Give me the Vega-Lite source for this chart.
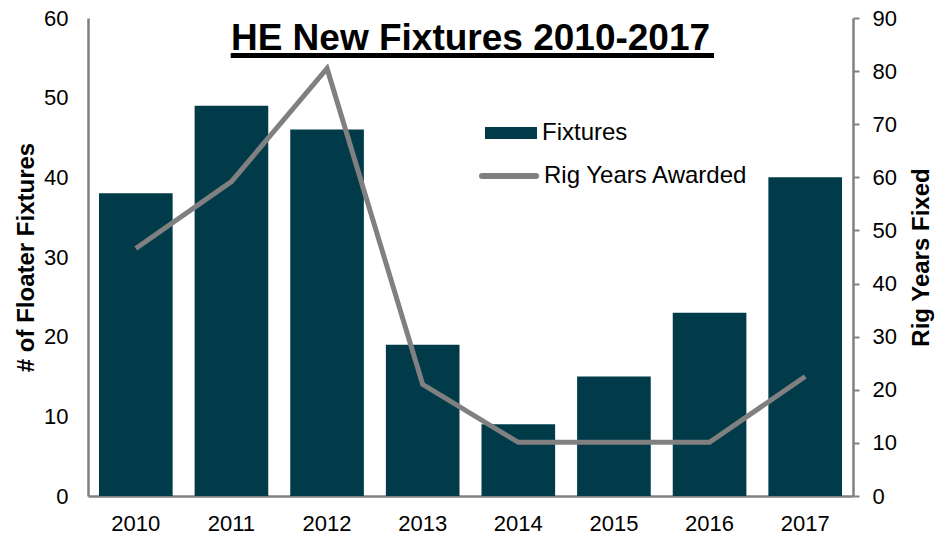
{
  "$schema": "https://vega.github.io/schema/vega-lite/v6.json",
  "width": 765,
  "height": 478,
  "autosize": {"type": "none"},
  "padding": {"left": 88, "top": 18, "right": 95, "bottom": 40},
  "background": "white",
  "config": {
    "view": {"stroke": null},
    "font": "Liberation Sans",
    "axis": {
      "labelFont": "Liberation Sans",
      "labelFontSize": 22,
      "labelColor": "#000000",
      "titleFont": "Liberation Sans",
      "titleFontSize": 24,
      "titleFontWeight": "bold",
      "titleColor": "#000000",
      "domainColor": "#808080",
      "domainWidth": 2.5,
      "tickColor": "#808080",
      "tickWidth": 2,
      "grid": false
    },
    "legend": {
      "labelFont": "Liberation Sans",
      "labelFontSize": 24,
      "labelColor": "#000000",
      "labelLimit": 0,
      "padding": 0,
      "labelOffset": 5
    }
  },
  "title": {
    "text": "HE New Fixtures 2010-2017",
    "font": "Liberation Sans",
    "fontSize": 37,
    "fontWeight": "bold",
    "color": "#000000",
    "anchor": "middle",
    "frame": "group",
    "offset": -51
  },
  "data": {
    "values": [
      {"year": "2010", "fixtures": 38, "rigYears": 46.6},
      {"year": "2011", "fixtures": 49, "rigYears": 59.2},
      {"year": "2012", "fixtures": 46, "rigYears": 80.5},
      {"year": "2013", "fixtures": 19, "rigYears": 21},
      {"year": "2014", "fixtures": 9, "rigYears": 10.1},
      {"year": "2015", "fixtures": 15, "rigYears": 10.1},
      {"year": "2016", "fixtures": 23, "rigYears": 10.1},
      {"year": "2017", "fixtures": 40, "rigYears": 22.5}
    ]
  },
  "layer": [
    {
      "layer": [
        {
          "mark": {"type": "bar", "color": "#013B4A"},
          "encoding": {
            "x": {
              "field": "year",
              "type": "ordinal",
              "scale": {"paddingInner": 0.23, "paddingOuter": 0.115},
              "axis": {"title": null, "labelAngle": 0, "ticks": false, "tickSize": 0, "labelPadding": 17}
            },
            "y": {
              "field": "fixtures",
              "type": "quantitative",
              "scale": {"domain": [0, 60]},
              "axis": {
                "title": "# of Floater Fixtures",
                "values": [0, 10, 20, 30, 40, 50, 60],
                "ticks": false,
                "tickSize": 0,
                "labelPadding": 20,
                "titlePadding": 5
              }
            },
            "fill": {
              "datum": "Fixtures",
              "type": "nominal",
              "scale": {"range": ["#013B4A"]},
              "legend": {
                "orient": "none",
                "legendX": 397,
                "legendY": 89,
                "title": null,
                "symbolType": "M-1,-0.23H1V0.23H-1Z",
                "symbolSize": 2704,
                "symbolStrokeWidth": 0,
                "symbolOpacity": 1
              }
            }
          }
        },
        {
          "mark": {"type": "line", "color": "#808080", "strokeWidth": 5},
          "encoding": {
            "x": {"field": "year", "type": "ordinal"},
            "y": {
              "field": "rigYears",
              "type": "quantitative",
              "scale": {"domain": [0, 90]},
              "axis": {
                "orient": "right",
                "title": "Rig Years Fixed",
                "titleAngle": 270,
                "titleBaseline": "top",
                "values": [0, 10, 20, 30, 40, 50, 60, 70, 80, 90],
                "tickSize": 6,
                "labelPadding": 13,
                "titlePadding": 13
              }
            },
            "stroke": {
              "datum": "Rig Years Awarded",
              "type": "nominal",
              "scale": {"range": ["#808080"]},
              "legend": {
                "orient": "none",
                "legendX": 391,
                "legendY": 128,
                "title": null,
                "symbolType": "stroke",
                "symbolSize": 2916,
                "symbolStrokeWidth": 6,
                "encode": {"symbols": {"update": {"strokeCap": {"value": "round"}}}}
              }
            }
          }
        }
      ],
      "resolve": {"scale": {"y": "independent", "fill": "independent", "stroke": "independent"}}
    },
    {
      "mark": {"type": "rule", "color": "#000000", "strokeWidth": 4.5},
      "encoding": {
        "x": {"datum": 1.495, "type": "quantitative", "scale": {"domain": [0, 8]}, "axis": null},
        "x2": {"datum": 6.546},
        "y": {"datum": 55.29, "type": "quantitative", "scale": {"domain": [0, 60]}, "axis": null}
      }
    }
  ],
  "resolve": {"scale": {"x": "independent", "y": "independent"}}
}
